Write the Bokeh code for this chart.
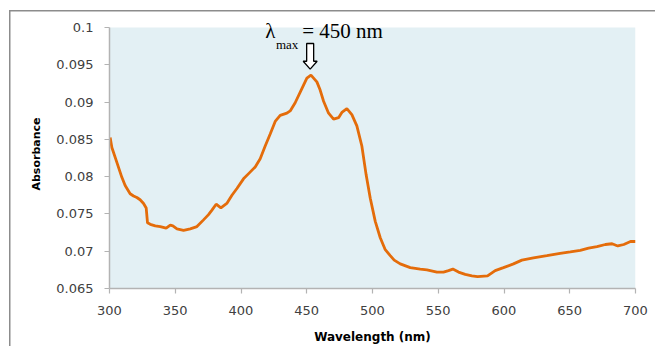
from bokeh.plotting import figure
from bokeh.models import Range1d, FixedTicker, Label, BoxAnnotation
from bokeh.embed import file_html
from bokeh.resources import INLINE

# ---- data ----
wavelength = [300.5, 301.8, 305.6, 309.4, 311.9, 315.7, 318.3, 320.8, 323.3, 325.9,
              327.9, 328.9, 331.0, 334.8, 338.6, 343.1, 346.2, 348.2, 351.3, 356.3,
              361.4, 366.5, 371.5, 375.3, 377.9, 381.1, 384.7, 389.2, 393.1, 396.9,
              401.9, 405.8, 410.8, 414.6, 418.4, 422.2, 426.0, 429.8, 434.9, 437.4,
              441.2, 446.3, 450.1, 453.2, 457.7, 460.2, 462.8, 466.6, 470.4, 474.2,
              476.7, 480.5, 484.3, 488.1, 491.9, 495.2, 498.3, 502.1, 505.9, 509.7,
              513.5, 516.5, 521.1, 528.7, 536.3, 541.4, 549.0, 554.0, 557.8, 561.1,
              565.4, 570.5, 575.6, 579.9, 587.5, 593.3, 599.6, 607.2, 613.6, 622.4,
              632.6, 642.7, 650.4, 658.0, 664.3, 670.7, 677.1, 682.2, 686.5, 691.1,
              696.2, 700.0]
absorbance = [0.08524, 0.0839, 0.0819, 0.0799, 0.0788, 0.0777, 0.0774, 0.0772, 0.0769, 0.0764,
              0.0758, 0.0738, 0.0736, 0.0734, 0.0733, 0.0731, 0.0735, 0.0734, 0.0730, 0.0728,
              0.0730, 0.0733, 0.0742, 0.0749, 0.0755, 0.0763, 0.0758, 0.0764, 0.0775, 0.0784,
              0.0797, 0.0804, 0.0813, 0.0824, 0.0841, 0.0857, 0.0874, 0.0882, 0.0885, 0.0888,
              0.0899, 0.0918, 0.0932, 0.0936, 0.0927, 0.0916, 0.0901, 0.0885, 0.0877, 0.0879,
              0.0886, 0.0891, 0.0883, 0.0868, 0.0841, 0.0802, 0.0771, 0.0740, 0.0718, 0.0702,
              0.0694, 0.0688, 0.0683, 0.0678, 0.0676, 0.0675, 0.0672, 0.0672, 0.0674, 0.0676,
              0.0672, 0.0669, 0.0667, 0.0666, 0.0667, 0.0674, 0.0678, 0.0683, 0.0688, 0.0691,
              0.0694, 0.0697, 0.0699, 0.0701, 0.0704, 0.0706, 0.0709, 0.0710, 0.0707, 0.0709,
              0.0713, 0.0713]

x_ticks = [300, 350, 400, 450, 500, 550, 600, 650, 700]
x_tick_labels = ["300", "350", "400", "450", "500", "550", "600", "650", "700"]
y_ticks = [0.065, 0.07, 0.075, 0.08, 0.085, 0.09, 0.095, 0.1]
y_tick_labels = ["0.065", "0.07", "0.075", "0.08", "0.085", "0.09", "0.095", "0.1"]

x_min, x_max = 300, 700
y_min, y_max = 0.065, 0.1

peak_wavelength = 453.0
peak_label = "= 450 nm"

# ---- figure ----
# frame extends a little above 0.1 so the annotation text is not clipped;
# the blue plot area is drawn only over the real axis range
p = figure(width=655, height=346, output_backend="svg", toolbar_location=None,
           x_range=Range1d(x_min, x_max), y_range=Range1d(y_min, 0.10106),
           min_border_left=109, min_border_right=20, min_border_top=19,
           min_border_bottom=55)
p.border_fill_color = None
p.background_fill_color = None
p.outline_line_color = None
p.grid.visible = False
p.styles = {"box-shadow": "inset 9px 10px 0 0 #ffffff, inset 10.5px 11.5px 0 0 #8c8c8c"}

p.add_layout(BoxAnnotation(left=x_min, right=x_max, bottom=y_min, top=y_max,
                           fill_color="#E3F0F4", fill_alpha=1.0, line_color=None,
                           level="underlay"))

axis_color = "#B3B3B3"
for ax in (p.xaxis[0], p.yaxis[0]):
    ax.axis_line_color = axis_color
    ax.axis_line_width = 1.5
    ax.major_tick_line_color = axis_color
    ax.major_tick_line_width = 1.2
    ax.major_tick_in = 0
    ax.major_tick_out = 5
    ax.minor_tick_line_color = None
    ax.major_label_text_font = "DejaVu Sans"
    ax.major_label_text_font_size = "13px"
    ax.major_label_text_color = "#404040"
    ax.axis_label_text_font = "DejaVu Sans"
    ax.axis_label_text_font_style = "bold"
    ax.axis_label_text_color = "#000000"

p.yaxis.bounds = (y_min, y_max)
p.xaxis.ticker = FixedTicker(ticks=x_ticks)
p.yaxis.ticker = FixedTicker(ticks=y_ticks)
p.xaxis.major_label_overrides = {t: l for t, l in zip(x_ticks, x_tick_labels)}
p.yaxis.major_label_overrides = {t: l for t, l in zip(y_ticks, y_tick_labels)}
p.xaxis.major_label_standoff = 12
p.yaxis.major_label_standoff = 11
p.xaxis.axis_label = "Wavelength (nm)"
p.yaxis.axis_label = "Absorbance"
p.xaxis.axis_label_text_font_size = "12px"
p.yaxis.axis_label_text_font_size = "11px"
p.xaxis.axis_label_standoff = 12
p.yaxis.axis_label_standoff = 10

p.line(wavelength, absorbance, line_color="#E46C0A", line_width=2.8)

# ---- lambda max annotation ----
ax_c = peak_wavelength - 0.4
tip_y = 0.0944
head_y = 0.09546
top_y = 0.09784
hs = 2.66
hh = 5.3
arrow_x = [ax_c - hs, ax_c + hs, ax_c + hs, ax_c + hh, ax_c, ax_c - hh, ax_c - hs, ax_c - hs]
arrow_y = [top_y, top_y, head_y, head_y, tip_y, head_y, head_y, top_y]
p.patch(arrow_x, arrow_y, fill_color="white", line_color="black", line_width=1.3)

p.add_layout(Label(x=418.5, y=0.09947, text="λ", text_font="Liberation Serif",
                   text_font_size="21px", text_color="black", text_baseline="alphabetic"))
p.add_layout(Label(x=426.6, y=0.09775, text="max", text_font="Liberation Serif",
                   text_font_size="13px", text_color="black", text_baseline="alphabetic"))
p.add_layout(Label(x=446.6, y=0.09947, text=peak_label, text_font="Liberation Serif",
                   text_font_size="21px", text_color="black", text_baseline="alphabetic"))

open("out.html", "w").write(file_html(p, INLINE))
